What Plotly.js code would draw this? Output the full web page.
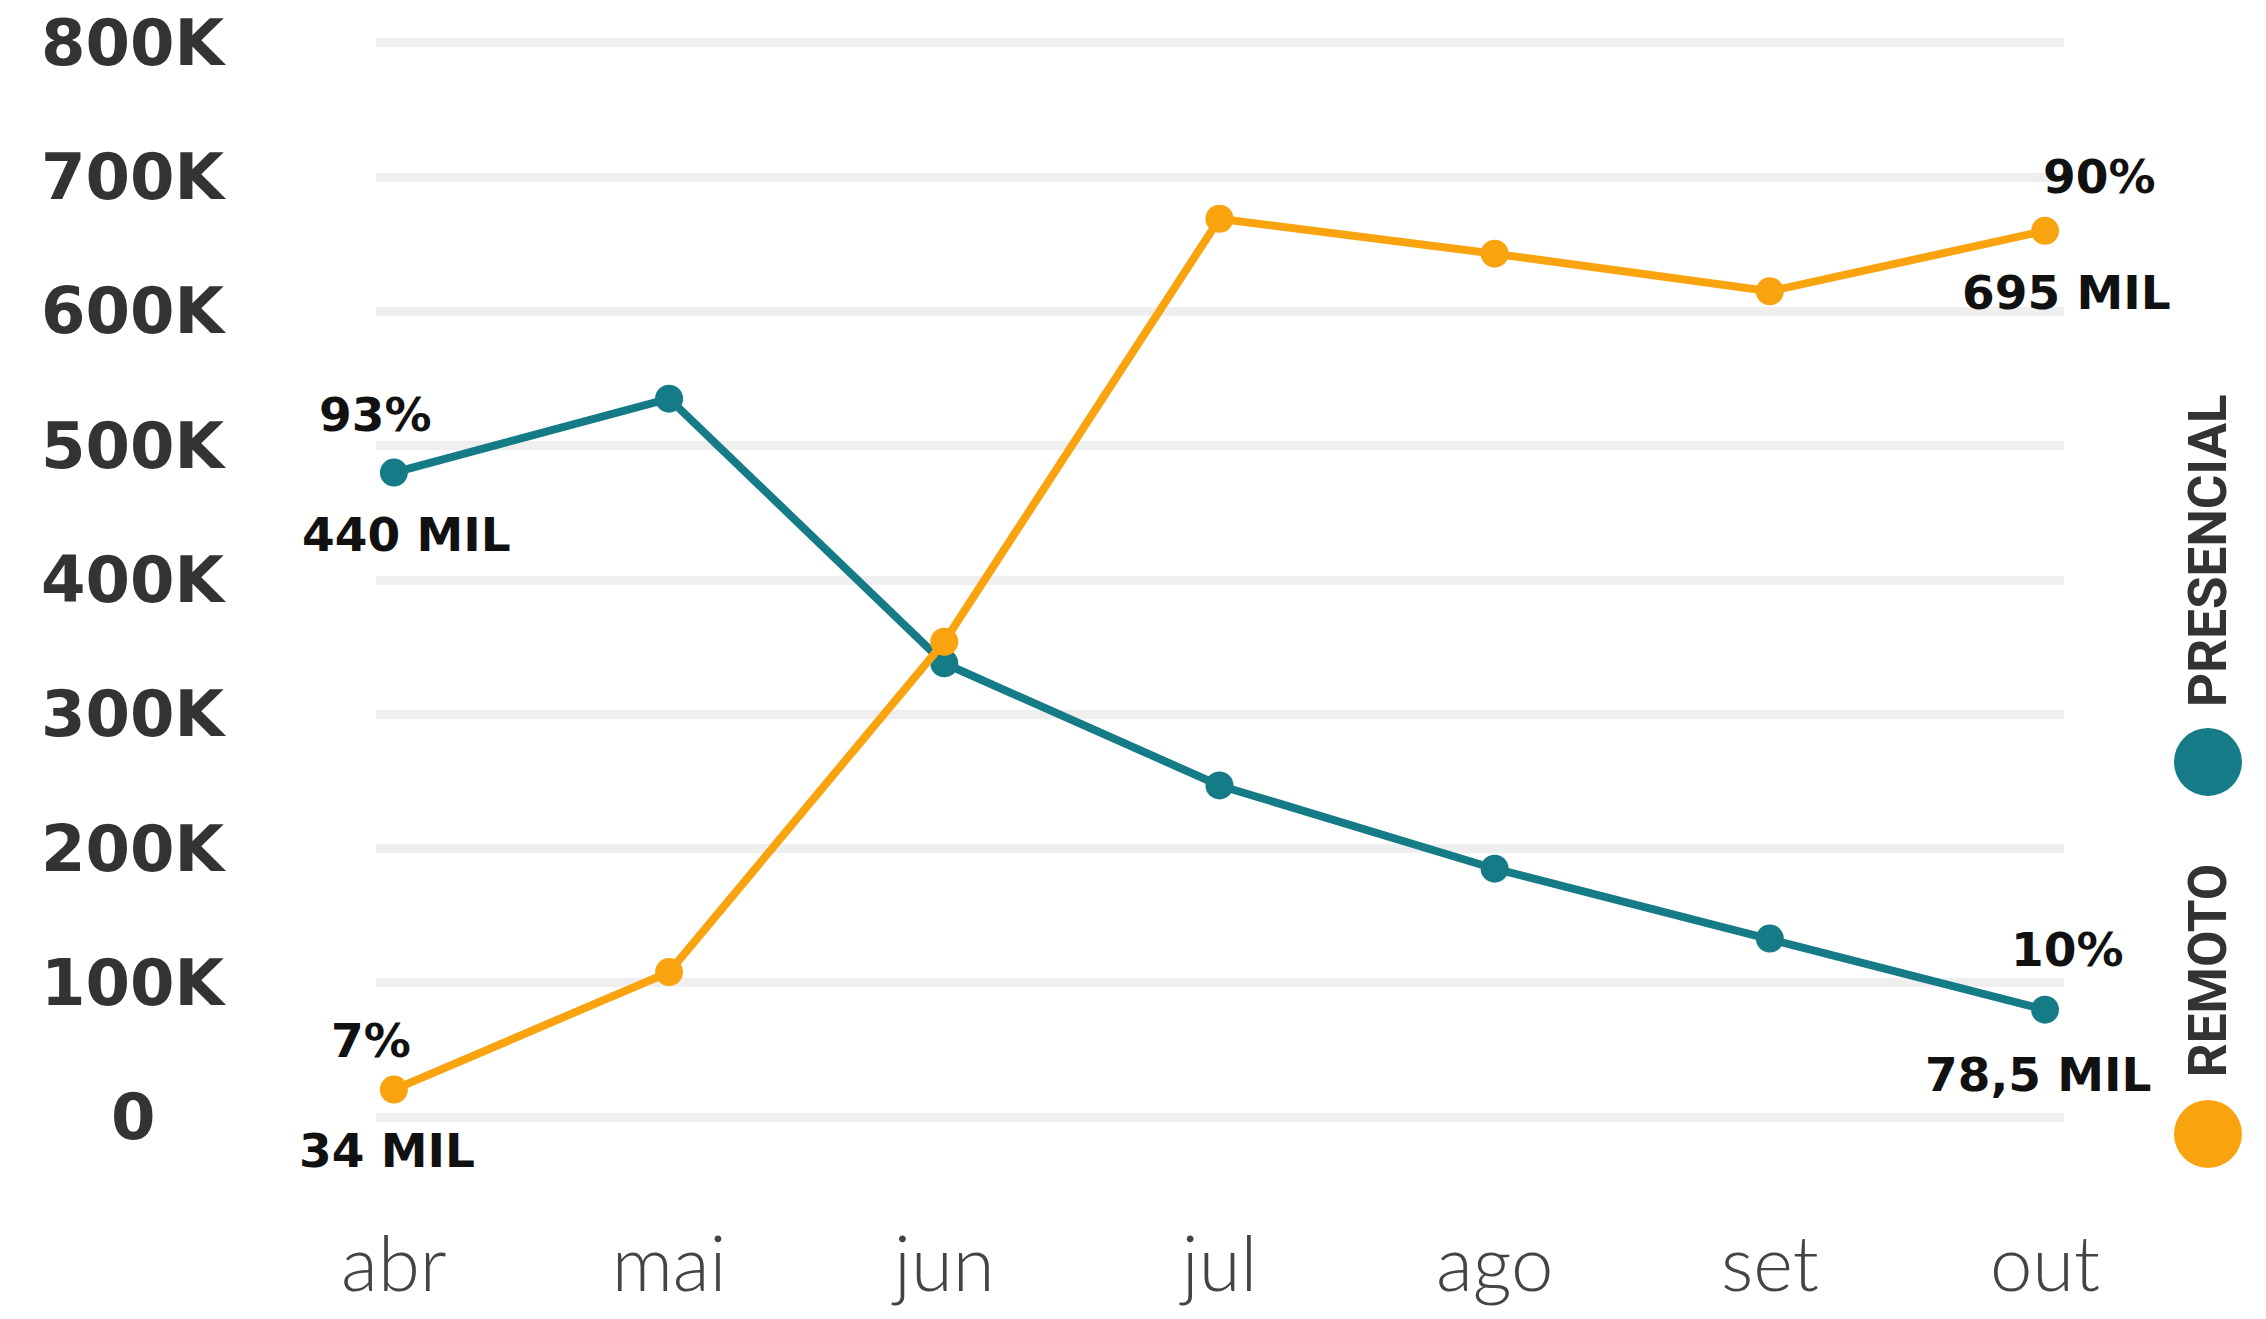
<!DOCTYPE html>
<html>
<head>
<meta charset="utf-8">
<script src="https://cdn.plot.ly/plotly-3.0.1.min.js"></script>
<style>
  html, body { margin: 0; padding: 0; background: #ffffff; }
  #chart { width: 2266px; height: 1319px; }
</style>
</head>
<body>
<div id="chart"></div>
<script>
// ---- data ----
const months = ['abr', 'mai', 'jun', 'jul', 'ago', 'set', 'out'];
const presencial = [480000, 535000, 338000, 247000, 185000, 133000, 80000];
const remoto = [20500, 108000, 354000, 669000, 643000, 615000, 660000];
const yTickVals = [0, 100000, 200000, 300000, 400000, 500000, 600000, 700000, 800000];
const yTickText = ['0', '100K', '200K', '300K', '400K', '500K', '600K', '700K', '800K'];
const presencialLabels = ['93%', '440 MIL', '10%', '78,5 MIL'];
const remotoLabels = ['7%', '34 MIL', '90%', '695 MIL'];
const legendNames = ['PRESENCIAL', 'REMOTO'];

// ---- styles ----
const TEAL = '#147b87';
const ORANGE = '#f9a30f';
const labelFont = { family: 'DejaVu Sans', size: 47, color: '#111111', weight: 700 };

const traces = [
  {
    x: months, y: presencial, type: 'scatter', mode: 'lines+markers',
    line: { color: TEAL, width: 8 }, marker: { color: TEAL, size: 28 },
    showlegend: false, hoverinfo: 'skip'
  },
  {
    x: months, y: remoto, type: 'scatter', mode: 'lines+markers',
    line: { color: ORANGE, width: 8 }, marker: { color: ORANGE, size: 28 },
    showlegend: false, hoverinfo: 'skip'
  }
];

const last = months.length - 1;
const annotations = [];
function lab(xi, yv, text, dx, dy) {
  annotations.push({
    x: months[xi], y: yv, xref: 'x', yref: 'y', text: text, showarrow: false,
    xshift: dx, yshift: dy, font: labelFont, xanchor: 'center', yanchor: 'middle'
  });
}
lab(0, presencial[0], presencialLabels[0], -18, 58);
lab(0, presencial[0], presencialLabels[1], 13, -62);
lab(last, presencial[last], presencialLabels[2], 22, 60);
lab(last, presencial[last], presencialLabels[3], -7, -65);
lab(0, remoto[0], remotoLabels[0], -23, 49);
lab(0, remoto[0], remotoLabels[1], -7, -61);
lab(last, remoto[last], remotoLabels[2], 54, 54);
lab(last, remoto[last], remotoLabels[3], 21, -62);

// y axis labels, centred
yTickVals.forEach(function (v, i) {
  annotations.push({
    x: -0.1435, xref: 'paper', y: v, yref: 'y', text: yTickText[i], showarrow: false,
    xanchor: 'center', yanchor: 'middle',
    font: { family: 'DejaVu Sans', size: 64, color: '#333333', weight: 700 }
  });
});

// legend texts
const legendY = [0.5266, 0.154];
legendNames.forEach(function (n, i) {
  annotations.push({
    x: 1.0853, xref: 'paper', y: legendY[i], yref: 'paper', text: n, showarrow: false,
    textangle: -90, xanchor: 'center', yanchor: 'middle',
    font: { family: 'Roboto', size: 53, color: '#333333', weight: 700 }
  });
});

const legendColors = [TEAL, ORANGE];
const legendDotY = [0.3387, 0.0089];
const shapes = legendColors.map(function (c, i) {
  return {
    type: 'circle', xref: 'paper', yref: 'paper',
    xsizemode: 'pixel', ysizemode: 'pixel',
    xanchor: 1.0853, yanchor: legendDotY[i],
    x0: -34, x1: 34, y0: -34, y1: 34,
    fillcolor: c, line: { width: 0 }
  };
});

const layout = {
  width: 2266, height: 1319,
  margin: { l: 376, r: 202, t: 16, b: 175, pad: 0 },
  paper_bgcolor: '#ffffff', plot_bgcolor: '#ffffff',
  showlegend: false,
  xaxis: {
    type: 'category', range: [-0.065, 6.069],
    showgrid: false, zeroline: false, showline: false,
    ticks: 'outside', ticklen: 55, tickcolor: 'rgba(0,0,0,0)',
    tickfont: { family: 'Lato', size: 76, color: '#444444', weight: 300 },
    fixedrange: true
  },
  yaxis: {
    range: [-20000, 820000],
    tickvals: yTickVals, showticklabels: false,
    showgrid: true, gridcolor: '#efefef', gridwidth: 9,
    zeroline: false, showline: false, fixedrange: true
  },
  annotations: annotations,
  shapes: shapes
};

Plotly.newPlot('chart', traces, layout, { displayModeBar: false, staticPlot: true });
</script>
</body>
</html>
